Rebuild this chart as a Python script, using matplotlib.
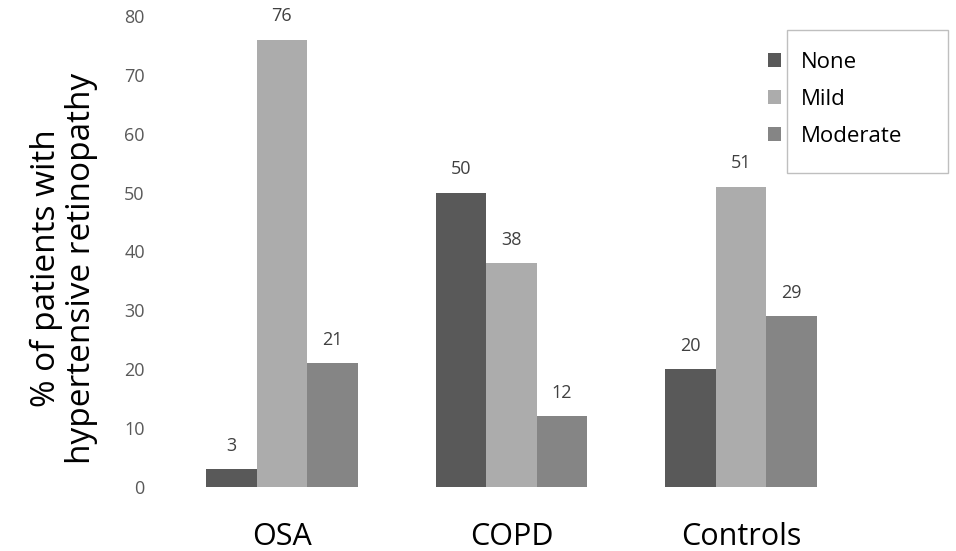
import numpy as np
import matplotlib.pyplot as plt
from matplotlib.patches import Rectangle

plt.rcParams['font.family'] = ['Open Sans', 'DejaVu Sans']

groups = ['OSA', 'COPD', 'Controls']
series = ['None', 'Mild', 'Moderate']
none_vals = [3, 50, 20]
mild_vals = [76, 38, 51]
moderate_vals = [21, 12, 29]
colours = ['#595959', '#acacac', '#858585']

fig = plt.figure(figsize=(9.56, 5.51), dpi=100)
ax = fig.add_axes([167/956, 1 - 487/551, (856-167)/956, (487-16)/551])

x = np.arange(len(groups))
w = 0.22
for i, (vals, name) in enumerate(zip([none_vals, mild_vals, moderate_vals], series)):
    pos = x + (i - 1) * w
    ax.bar(pos, vals, width=w, color=colours[i], label=name)
    for p, v in zip(pos, vals):
        ax.text(p, v + 4.0, str(v), ha='center', va='center', fontsize=13, color='#404040')

ax.set_xlim(-0.5, 2.5)
ax.set_ylim(0, 80)
ax.set_yticks(range(0, 81, 10))
ax.set_xticks(x)
ax.set_xticklabels(groups, fontsize=22, color='black')
for s in ax.spines.values():
    s.set_visible(False)
ax.tick_params(axis='both', length=0)
ax.tick_params(axis='y', labelsize=13, labelcolor='#595959', pad=16)
ax.tick_params(axis='x', pad=25)

fig.text(64/956, 1 - 268/551, '% of patients with\nhypertensive retinopathy', rotation=90,
         ha='center', va='center', fontsize=24, linespacing=1.05)

leg = fig.legend(loc='upper left', bbox_to_anchor=(748/956, 1 - 32/551), frameon=False,
                 fontsize=16, handlelength=0.6, handleheight=0.6, handletextpad=0.9,
                 labelspacing=0.72)
fig.patches.append(Rectangle((787/956, 1 - 173/551), (948-787)/956, (173-30)/551,
                             transform=fig.transFigure, fill=False, edgecolor='#bfbfbf', lw=1))

fig.savefig('out.png', dpi=100)
